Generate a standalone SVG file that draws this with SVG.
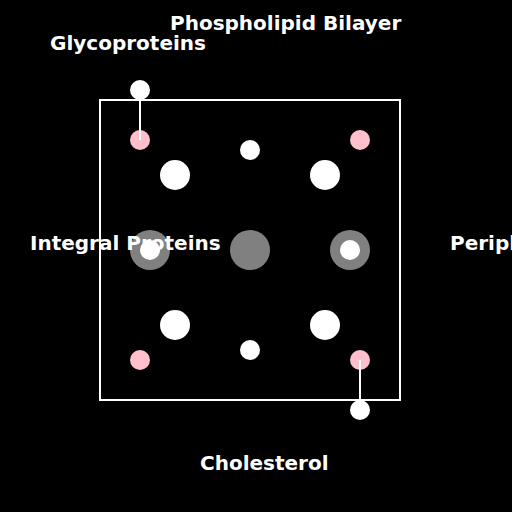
<svg xmlns="http://www.w3.org/2000/svg" width="512" height="512" viewBox="0 0 512 512">
<style>
.lbl{font-family:"DejaVu Sans",sans-serif;font-weight:bold;font-size:20px;fill:#fff}
.w{fill:#fff}.p{fill:#ffc0cb}.g{fill:#808080}
.ln{stroke:#fff;stroke-width:2;fill:none}
</style>
<rect width="512" height="512" fill="#000"/>
<g id="membrane"><rect x="100" y="100" width="300" height="300" class="ln"/></g>
<g id="pink-markers">
<circle cx="140" cy="140" r="10" class="p"/><circle cx="360" cy="140" r="10" class="p"/>
<circle cx="140" cy="360" r="10" class="p"/><circle cx="360" cy="360" r="10" class="p"/>
</g>
<g id="connectors">
<line x1="140" y1="90" x2="140" y2="140" class="ln"/>
<line x1="360" y1="360" x2="360" y2="410" class="ln"/>
</g>
<g id="glycoprotein-nodes">
<circle cx="140" cy="90" r="10" class="w"/><circle cx="360" cy="410" r="10" class="w"/>
</g>
<g id="lipids">
<circle cx="250" cy="150" r="10" class="w"/><circle cx="250" cy="350" r="10" class="w"/>
<circle cx="175" cy="175" r="15" class="w"/><circle cx="325" cy="175" r="15" class="w"/>
<circle cx="175" cy="325" r="15" class="w"/><circle cx="325" cy="325" r="15" class="w"/>
</g>
<g id="proteins">
<circle cx="150" cy="250" r="20" class="g"/><circle cx="250" cy="250" r="20" class="g"/><circle cx="350" cy="250" r="20" class="g"/>
</g>
<g id="labels">
<text x="170" y="30" class="lbl">Phospholipid Bilayer</text>
<text x="50" y="50" class="lbl">Glycoproteins</text>
<text x="30" y="250" class="lbl">Integral Proteins</text>
<text x="450" y="250" class="lbl">Peripheral Proteins</text>
<text x="200" y="470" class="lbl">Cholesterol</text>
</g>
<g id="inner">
<circle cx="150" cy="250" r="10" class="w"/><circle cx="350" cy="250" r="10" class="w"/>
</g>
</svg>
